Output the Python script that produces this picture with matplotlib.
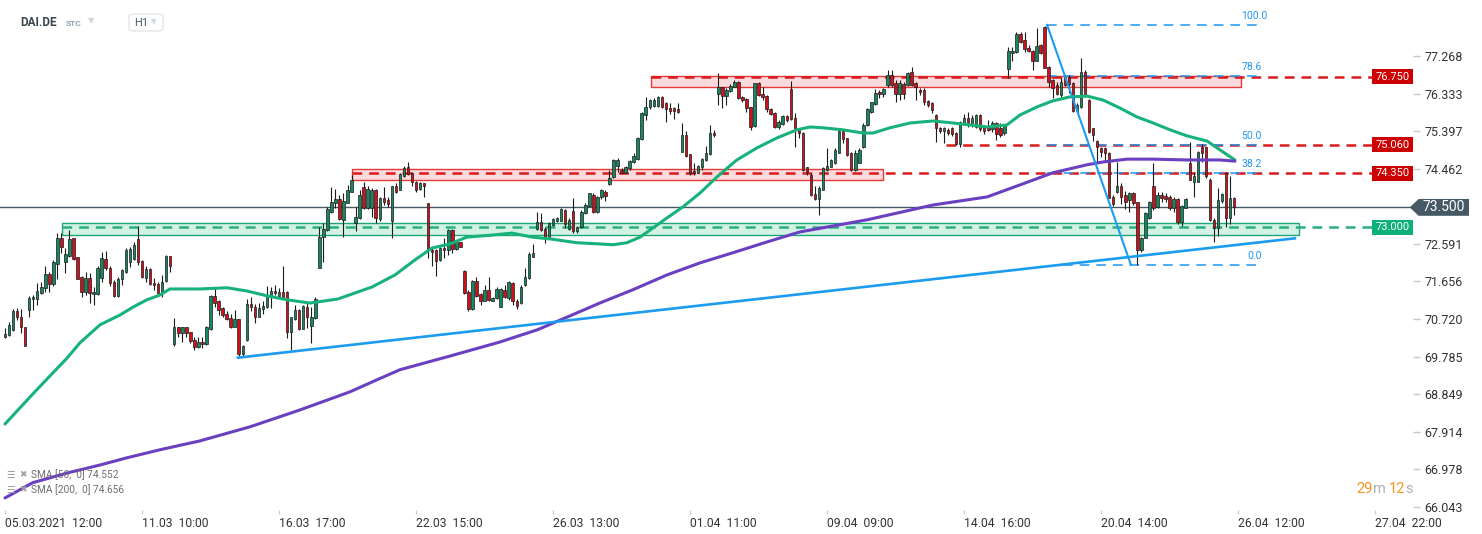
import numpy as np
import matplotlib
matplotlib.use('Agg')
import matplotlib.pyplot as plt
from matplotlib.patches import Rectangle, Polygon, FancyBboxPatch

plt.rcParams['font.family'] = ['Roboto', 'DejaVu Sans']
plt.rcParams['lines.scale_dashes'] = False

# DAI.DE H1 candles, 05.03.2021 12:00 -> 26.04.2021 12:00
opens = [70.28,70.32,70.45,70.92,70.78,70.52,70.95,71.21,71.23,71.38,
         71.49,71.84,71.59,72.08,72.73,72.13,72.30,72.73,72.26,71.76,
         71.40,71.75,71.35,71.35,71.74,72.21,72.00,71.65,71.30,71.71,
         71.90,72.13,72.22,72.71,72.17,71.75,71.96,71.63,71.60,71.40,
         71.66,72.29,70.10,70.52,70.38,70.52,70.39,70.20,70.02,70.16,
         70.10,70.47,71.30,71.17,70.99,70.85,70.75,70.53,70.72,69.85,
         70.19,71.09,71.02,70.78,70.97,71.02,71.32,71.42,71.30,71.40,
         71.40,70.41,70.72,70.95,70.48,71.03,70.56,70.74,71.99,72.76,
         72.94,73.39,73.60,73.70,73.19,73.62,73.89,73.10,73.23,74.00,
         73.48,73.48,73.93,73.21,73.74,73.68,73.17,74.02,73.93,74.28,
         74.50,74.35,74.14,73.95,74.10,73.60,72.44,72.44,72.19,72.50,
         72.44,72.94,72.46,72.63,71.92,71.40,70.97,71.67,71.35,71.18,
         71.45,71.18,71.24,71.03,71.45,71.25,71.63,71.18,71.12,71.57,
         71.74,72.27,72.96,73.13,72.96,72.73,73.06,73.17,73.17,73.44,
         72.96,73.41,72.92,73.01,73.35,73.54,73.81,73.39,73.75,73.89,
         74.08,74.25,74.53,74.43,74.36,74.47,74.64,74.70,75.19,75.80,
         75.99,76.03,76.02,76.25,76.09,75.97,75.97,75.95,74.89,75.30,
         74.82,74.41,74.36,74.50,74.68,74.82,75.36,76.32,76.49,76.27,
         76.40,76.50,76.63,76.24,76.19,75.99,75.53,76.59,76.31,76.27,
         75.94,75.86,75.49,75.58,75.77,76.44,75.72,75.43,75.36,74.50,
         74.31,73.83,73.70,73.93,74.43,74.51,74.60,74.86,75.41,75.22,
         74.86,74.43,74.61,75.00,75.55,75.88,76.07,76.36,76.31,76.55,
         76.79,76.60,76.32,76.57,76.55,76.88,76.60,76.42,76.42,76.15,
         76.09,75.80,75.47,75.39,75.43,75.47,75.34,75.07,75.57,75.73,
         75.57,75.51,75.80,75.51,75.47,75.45,75.59,75.47,75.34,76.94,
         77.33,77.36,77.81,77.66,77.47,77.39,77.14,77.54,78.00,77.00,
         76.67,76.55,76.30,76.75,76.75,76.59,75.90,76.01,76.88,76.17,
         75.47,75.15,74.97,74.97,74.85,73.77,73.89,74.02,73.81,73.68,
         73.85,73.63,72.44,72.75,73.23,74.04,73.52,73.81,73.79,73.77,
         73.48,73.71,73.14,73.49,74.60,74.14,74.14,75.01,75.01,74.18,
         73.19,72.98,73.66,74.35,73.23,73.73]
highs = [70.49,70.66,70.97,70.99,70.97,70.53,71.30,71.32,71.61,71.65,
         72.03,71.90,72.19,72.87,72.86,72.48,72.94,72.73,72.27,71.79,
         71.88,71.86,71.53,72.03,72.38,72.42,72.03,71.69,71.76,71.96,
         72.48,72.51,72.65,73.04,72.19,72.03,71.99,71.74,71.65,71.82,
         72.32,72.29,70.74,70.53,70.53,70.53,70.41,70.27,70.28,70.27,
         70.55,71.32,71.53,71.20,71.02,70.93,70.85,70.95,70.72,70.08,
         71.21,71.28,71.10,71.12,71.16,71.55,71.53,71.57,71.49,72.04,
         71.42,70.78,71.07,70.97,71.07,71.12,71.03,71.26,73.02,73.10,
         73.52,74.01,73.95,73.81,73.85,74.06,74.31,73.52,73.93,74.14,
         74.03,73.98,73.95,73.77,74.00,73.77,74.03,74.10,74.35,74.53,
         74.64,74.39,74.16,74.14,74.11,73.62,72.48,72.46,72.52,72.73,
         72.96,72.96,72.69,72.65,71.94,71.45,71.69,71.78,71.38,71.57,
         71.78,71.28,71.53,71.49,71.57,71.68,71.65,71.21,71.57,71.99,
         72.40,72.59,73.39,73.35,73.02,73.14,73.23,73.27,73.48,73.45,
         73.23,73.73,73.04,73.44,73.60,73.87,73.85,73.78,73.95,73.93,
         74.43,74.71,74.72,74.47,74.53,74.68,74.86,75.26,75.88,76.24,
         76.19,76.21,76.27,76.27,76.13,76.09,76.01,76.09,75.61,75.41,
         74.83,74.60,74.55,74.72,75.03,75.55,75.43,76.84,76.50,76.46,
         76.57,76.67,76.64,76.27,76.21,76.01,76.60,76.63,76.50,76.29,
         75.97,75.88,75.67,75.80,75.80,76.65,75.84,75.47,75.38,74.51,
         74.35,74.02,74.02,74.51,74.97,74.70,74.97,75.44,75.44,75.23,
         74.89,74.93,74.97,75.59,75.97,76.13,76.44,76.42,76.46,76.93,
         76.93,76.67,76.67,76.63,76.88,76.99,76.63,76.46,76.46,76.17,
         76.12,75.82,75.51,75.51,75.47,75.51,75.38,75.65,75.82,75.87,
         75.80,75.82,75.82,75.55,75.67,75.65,75.62,75.59,75.57,77.50,
         77.50,77.86,77.87,77.87,77.54,77.42,77.97,77.56,78.02,77.02,
         76.70,76.63,76.75,76.79,76.79,76.61,76.09,77.22,76.92,76.20,
         75.48,75.18,75.01,75.01,74.87,73.81,74.64,74.10,73.91,73.89,
         73.89,73.64,72.77,73.39,73.66,74.60,73.89,73.89,73.85,73.81,
         73.77,73.74,73.56,73.74,75.13,74.39,74.90,75.07,75.01,74.23,
         73.24,73.98,73.85,74.39,74.27,73.77]
lows = [70.24,70.30,70.43,70.70,70.37,70.05,70.78,70.95,71.06,71.35,
        71.40,71.40,71.55,71.71,72.36,71.86,72.26,72.19,71.71,71.28,
        71.32,71.13,71.07,71.32,71.65,71.94,71.55,71.26,71.28,71.57,
        71.86,72.01,72.19,72.07,71.74,71.65,71.57,71.45,71.32,71.28,
        71.65,71.88,70.05,70.28,70.16,70.28,70.12,69.95,69.99,70.01,
        70.08,70.45,71.03,70.82,70.78,70.70,70.51,70.52,69.80,69.79,
        70.17,70.91,70.62,70.77,70.84,70.99,70.99,71.32,71.26,71.24,
        70.24,69.95,70.70,70.45,70.47,70.49,70.12,70.72,71.99,72.15,
        72.90,73.35,73.48,73.19,72.76,73.60,73.88,72.90,73.21,73.45,
        73.45,73.27,73.10,73.17,73.56,73.52,72.73,73.87,73.92,74.26,
        74.31,74.02,73.89,73.92,73.77,72.23,72.03,71.79,72.17,72.23,
        72.32,72.36,72.44,72.51,71.35,70.93,70.95,71.28,71.07,71.16,
        71.16,71.16,71.22,71.02,71.24,71.20,71.07,70.97,71.10,71.55,
        71.71,72.26,72.94,72.90,72.62,72.71,73.04,73.14,73.16,72.98,
        72.94,72.86,72.86,72.98,73.34,73.52,73.37,73.37,73.70,73.67,
        74.06,74.22,74.39,74.35,74.35,74.43,74.61,74.68,75.18,75.67,
        75.94,76.01,75.99,75.98,75.63,75.82,75.69,75.84,74.88,74.76,
        74.31,74.31,74.35,74.43,74.66,74.80,75.25,76.05,75.97,76.05,
        76.38,76.49,76.19,76.13,75.88,75.43,75.51,76.27,76.17,75.88,
        75.80,75.47,75.46,75.56,75.63,75.67,75.01,75.22,74.41,74.31,
        73.79,73.68,73.31,73.92,74.41,74.50,74.58,74.85,75.09,74.78,
        74.41,74.41,74.60,74.97,75.53,75.86,76.05,76.21,76.25,76.50,
        76.49,76.13,76.17,76.19,76.52,76.52,76.17,76.30,76.05,76.01,
        75.84,75.12,75.34,75.09,75.30,75.28,75.04,75.01,75.55,75.51,
        75.51,75.48,75.40,75.32,75.40,75.38,75.18,75.24,75.30,76.71,
        77.13,77.33,77.58,77.37,77.36,76.92,77.13,77.31,76.96,76.50,
        76.21,76.30,76.25,76.53,76.34,75.87,75.87,75.98,76.25,75.34,
        75.14,74.64,74.76,74.64,73.73,73.54,73.85,73.58,73.46,73.39,
        73.56,72.07,72.40,72.73,73.21,73.44,73.49,73.64,73.63,73.44,
        73.39,73.08,73.04,73.48,74.17,73.77,74.13,74.64,74.23,73.15,
        72.65,72.80,73.60,73.00,73.08,73.31]
closes = [70.35,70.57,70.91,70.78,70.52,70.06,71.24,71.28,71.42,71.53,
          71.84,71.59,72.13,72.73,72.52,72.34,72.71,72.22,71.73,71.40,
          71.75,71.36,71.40,72.00,72.23,72.00,71.61,71.30,71.72,71.93,
          72.44,72.46,72.57,72.14,71.76,71.96,71.59,71.56,71.38,71.65,
          72.29,72.05,70.52,70.38,70.52,70.37,70.18,70.02,70.16,70.10,
          70.52,71.30,71.12,70.95,70.81,70.72,70.53,70.72,69.85,70.05,
          71.09,71.02,70.78,70.99,71.05,71.30,71.42,71.36,71.40,71.26,
          70.41,70.76,70.95,70.48,71.05,70.78,70.78,71.22,72.76,72.96,
          73.45,73.63,73.70,73.21,73.66,73.93,74.18,73.27,73.81,73.48,
          73.95,73.93,73.23,73.74,73.64,73.58,74.02,73.89,74.33,74.47,
          74.33,74.12,73.93,74.11,74.02,72.44,72.40,72.17,72.50,72.44,
          72.94,72.46,72.65,72.52,71.36,70.97,71.67,71.30,71.18,71.45,
          71.20,71.24,71.46,71.46,71.28,71.65,71.16,71.05,71.51,71.76,
          72.34,72.36,73.13,72.94,72.73,73.10,73.20,73.23,73.45,73.09,
          73.19,72.90,73.02,73.39,73.56,73.85,73.39,73.77,73.92,73.78,
          74.22,74.68,74.68,74.36,74.50,74.65,74.78,75.22,75.84,75.99,
          76.16,76.16,76.25,76.01,75.94,75.91,75.91,75.88,75.30,74.79,
          74.35,74.35,74.53,74.70,74.85,75.36,75.30,76.49,76.28,76.42,
          76.52,76.63,76.21,76.16,75.97,75.49,76.59,76.30,76.25,75.94,
          75.82,75.51,75.62,75.77,75.67,75.69,75.47,75.34,74.43,74.39,
          73.81,73.70,73.99,74.47,74.53,74.68,74.93,75.41,75.19,74.80,
          74.43,74.86,74.93,75.55,75.94,76.11,76.34,76.31,76.44,76.79,
          76.55,76.32,76.60,76.32,76.85,76.55,76.49,76.36,76.11,76.05,
          75.92,75.47,75.39,75.47,75.34,75.32,75.07,75.62,75.73,75.55,
          75.73,75.80,75.45,75.40,75.43,75.59,75.32,75.30,75.55,77.39,
          77.39,77.81,77.62,77.44,77.39,77.14,77.52,77.33,76.98,76.63,
          76.46,76.31,76.63,76.55,76.56,75.90,76.05,76.88,76.30,75.38,
          75.30,74.99,74.87,74.85,73.74,73.58,74.04,73.77,73.64,73.85,
          73.60,72.44,72.75,73.35,73.63,73.48,73.81,73.73,73.70,73.48,
          73.71,73.14,73.54,73.71,74.18,74.27,74.87,74.85,74.27,73.19,
          72.98,73.68,73.83,73.23,73.74,73.50]

# moving averages (positions in candle index)
sma50_idx = [0, 3.7, 7.4, 11.2, 15.4, 18.6, 23.6, 28.5, 31.8, 35.2, 38.5, 40.9, 48.4, 55.1,
             60.0, 65.0, 70.0, 75.7, 82.6, 91.1, 96.8, 101.7, 106.0, 110.4, 114.6, 120.8,
             125.8, 130.8, 135.7, 141.9, 147.6, 150.9, 154.3, 157.6, 161.8, 164.3, 168.2,
             172.5, 176.7, 181.6, 186.6, 191.6, 196.5, 199.8, 203.0, 207.9, 212.9, 215.4,
             219.6, 224.6, 230.3, 235.2, 243.7, 248.6, 251.9, 256.1, 260.0, 264.3, 268.5,
             272.5, 276.7, 280.9, 284.9, 289.1, 293.3, 298.3, 301.5, 305.2]
sma50_val = [68.11, 68.51, 68.91, 69.31, 69.75, 70.13, 70.58, 70.82, 71.02, 71.20, 71.32, 71.47,
             71.47, 71.50, 71.42, 71.30, 71.20, 71.12, 71.22, 71.52, 71.82, 72.19, 72.49, 72.59,
             72.76, 72.81, 72.86, 72.76, 72.71, 72.62, 72.59, 72.57, 72.62, 72.76, 73.06, 73.24,
             73.51, 73.86, 74.26, 74.68, 74.98, 75.23, 75.43, 75.50, 75.48, 75.43, 75.35, 75.35,
             75.48, 75.60, 75.65, 75.60, 75.50, 75.55, 75.80, 76.00, 76.15, 76.25, 76.27, 76.17,
             75.97, 75.75, 75.60, 75.43, 75.28, 75.15, 74.93, 74.68]
sma200_idx = [0, 6.9, 15.4, 23.6, 30.3, 38.5, 48.4, 60.8, 73.2, 85.6, 92.3, 98.0, 110.4, 122.8,
              132.0, 139.5, 147.6, 155.8, 164.3, 172.5, 180.6, 189.1, 197.3, 213.9, 230.3,
              243.7, 251.9, 260.0, 268.5, 272.5, 278.4, 284.9, 293.3, 301.5, 305.2]
sma200_val = [66.27, 66.65, 66.89, 67.09, 67.27, 67.47, 67.69, 68.04, 68.46, 68.91, 69.21, 69.46,
              69.80, 70.15, 70.45, 70.77, 71.12, 71.45, 71.82, 72.12, 72.37, 72.64, 72.89, 73.19,
              73.56, 73.76, 74.06, 74.36, 74.56, 74.63, 74.70, 74.70, 74.68, 74.68, 74.65]

# drawings
trend_idx = [57.8, 320.1]
trend_val = [69.76, 72.73]
fib_idx = [258.6, 279.4]
fib_val = [78.04, 72.07]
fib_ratios = [100.0, 78.6, 50.0, 38.2, 0.0]
red_levels = [76.750, 75.060, 74.350]
red_starts = [160.3, 233.5, 86.1]
green_level = 73.000
last_price = 73.500
red_zones = [(160.3, 306.7, 76.50, 76.78), (86.1, 217.8, 74.17, 74.45)]
green_zone = (14.1, 321.0, 72.82, 73.11)

ytick_vals = [77.268, 76.333, 75.397, 74.462, 72.591, 71.656, 70.720, 69.785, 68.849, 67.914, 66.978, 66.043]
xtick_idx = [0, 34, 68, 102, 136, 170, 204, 238, 272, 306, 340]
xtick_labels = ['05.03.2021  12:00', '11.03  10:00', '16.03  17:00', '22.03  15:00', '26.03  13:00',
                '01.04  11:00', '09.04  09:00', '14.04  16:00', '20.04  14:00', '26.04  12:00', '27.04  22:00']

W, H = 1482, 534
fig = plt.figure(figsize=(W / 100, H / 100), dpi=100)
ax = fig.add_axes([0, 1 - 510 / H, 1413 / W, 510 / H])
ax.set_xlim(-1.24, 349.4)
ax.set_ylim(65.97, 78.66)

o = np.array(opens); hi = np.array(highs); lo = np.array(lows); c = np.array(closes)
x = np.arange(len(c))
up = c >= o
cols = np.where(up, '#16875f', '#d0101a')

# zones
for x0, x1, y0, y1 in red_zones:
    ax.add_patch(Rectangle((x0, y0), x1 - x0, y1 - y0, facecolor='#fbdadd', edgecolor='#e53935', lw=1, zorder=1))
ax.add_patch(Rectangle((green_zone[0], green_zone[2]), green_zone[1] - green_zone[0], green_zone[3] - green_zone[2],
                       facecolor='#d3f2e5', edgecolor='#1aa874', lw=1, zorder=1))

# horizontal levels
for lev, st in zip(red_levels, red_starts):
    ax.plot([st, 339.2], [lev, lev], color='#d81b1b', lw=1.8, ls=(0, (7, 5)), zorder=2)
ax.plot([green_zone[0], 339.2], [green_level] * 2, color='#27b07e', lw=1.8, ls=(0, (7, 5)), zorder=2)
ax.plot([-2, 348.6], [last_price] * 2, color='#455a64', lw=1, zorder=2)

# fib levels (top label is partly hidden under the header strip in the original)
top_clip = Rectangle((0, 0), 1, (510 - 14) / 510, transform=ax.transAxes, visible=False)
ax.add_patch(top_clip)
rng = fib_val[0] - fib_val[1]
for r in fib_ratios:
    lev = fib_val[1] + r / 100 * rng
    st = fib_idx[0] if r > 0 else 262.5
    ax.plot([st, 312.2], [lev, lev], color='#2196f3', lw=1.1, ls=(0, (7, 5)), zorder=2.5)
    t = ax.text(306.8 if r != 0 else 308.2, lev + 0.1, '%.1f' % r, color='#2196f3', fontsize=7.5,
                va='bottom', ha='left', zorder=6)
    t.set_clip_path(top_clip)

# candles
ax.vlines(x, lo, hi, color='#1b1b1b', lw=0.8, zorder=3)
ax.bar(x, c - o, bottom=o, width=0.62, color=cols, edgecolor='#1b1b1b', linewidth=0.5, zorder=3.5)

# moving averages
ax.plot(sma50_idx, sma50_val, color='#17b27a', lw=2.2, zorder=4, solid_capstyle='round', solid_joinstyle='round')
ax.plot(sma200_idx, sma200_val, color='#6a3fc2', lw=2.2, zorder=4, solid_capstyle='round', solid_joinstyle='round')

# trend lines
ax.plot(trend_idx, trend_val, color='#1b9cf0', lw=1.9, zorder=5)
ax.plot(fib_idx, fib_val, color='#1b9cf0', lw=1.5, zorder=5)

# price tags
for lev in red_levels:
    ax.add_patch(Rectangle((339.2, lev - 0.19), 10.2, 0.38, facecolor='#cc0000', edgecolor='none', clip_on=False, zorder=6))
    ax.text(344.3, lev, '%.3f' % lev, color='white', fontsize=8, ha='center', va='center', zorder=7, clip_on=False)
ax.add_patch(Rectangle((339.2, green_level - 0.19), 10.2, 0.38, facecolor='#0db07a', edgecolor='none', clip_on=False, zorder=6))
ax.text(344.3, green_level, '%.3f' % green_level, color='white', fontsize=8, ha='center', va='center', zorder=7)
ax.add_patch(Polygon([(348.6, last_price), (350.8, last_price + 0.21), (363.3, last_price + 0.21),
                      (363.3, last_price - 0.21), (350.8, last_price - 0.21)],
                     closed=True, facecolor='#455a64', edgecolor='none', clip_on=False, zorder=6))
ax.text(357.1, last_price, '%.3f' % last_price, color='white', fontsize=10, ha='center', va='center', zorder=7)

# axes
for s in ax.spines.values():
    s.set_visible(False)
ax.yaxis.tick_right()
ax.set_yticks(ytick_vals)
ax.set_yticklabels(['%.3f' % v for v in ytick_vals])
ax.tick_params(axis='y', length=5, width=1, color='#c8c8c8', pad=3, labelsize=9, labelcolor='#333333')
ax.set_xticks(xtick_idx)
ax.set_xticklabels(xtick_labels, ha='left')
ax.tick_params(axis='x', length=3, width=1, color='#cfcfcf', pad=2, labelsize=8.7, labelcolor='#333333')

# header
fig.text(20 / W, 1 - 22 / H, 'DAI.DE', fontsize=8.5, fontweight='bold', color='#37474f', va='center')
fig.text(66 / W, 1 - 23 / H, 'STC', fontsize=6, fontweight='bold', color='#90a4ae', va='center')
fig.text(88 / W, 1 - 21 / H, '\u25bc', fontsize=6, color='#cfd8dc', va='center', family=['DejaVu Sans'])
fig.patches.append(FancyBboxPatch((129 / W, 1 - 31 / H), 34 / W, 17 / H, boxstyle='round,pad=0,rounding_size=0.004',
                                  transform=fig.transFigure, facecolor='white', edgecolor='#e0e0e0', lw=0.8))
fig.text(134 / W, 1 - 23 / H, 'H1', fontsize=8, color='#455a64', va='center')
fig.text(151 / W, 1 - 22 / H, '\u25bc', fontsize=5.5, color='#cfd8dc', va='center', family=['DejaVu Sans'])

# indicator legend
for yy, txt in [(475, 'SMA [50,  0] 74.552'), (490, 'SMA [200,  0] 74.656')]:
    fig.text(6 / W, 1 - yy / H, '\u2630', fontsize=7, color='#a0a0a0', va='center', family=['DejaVu Sans'])
    fig.text(19 / W, 1 - yy / H, '\u2716', fontsize=6.5, color='#a0a0a0', va='center', family=['DejaVu Sans'])
    fig.text(31 / W, 1 - yy / H, txt, fontsize=7.3, color='#6d6d6d', va='center')

# countdown
for px, txt, col in [(1356, '29', '#f7941d'), (1373, 'm', '#b0b0b0'), (1389, '12', '#f7941d'), (1405, 's', '#b0b0b0')]:
    fig.text(px / W, 1 - 489 / H, txt, fontsize=10.5, color=col, va='center')

fig.savefig('out.png', dpi=100)
